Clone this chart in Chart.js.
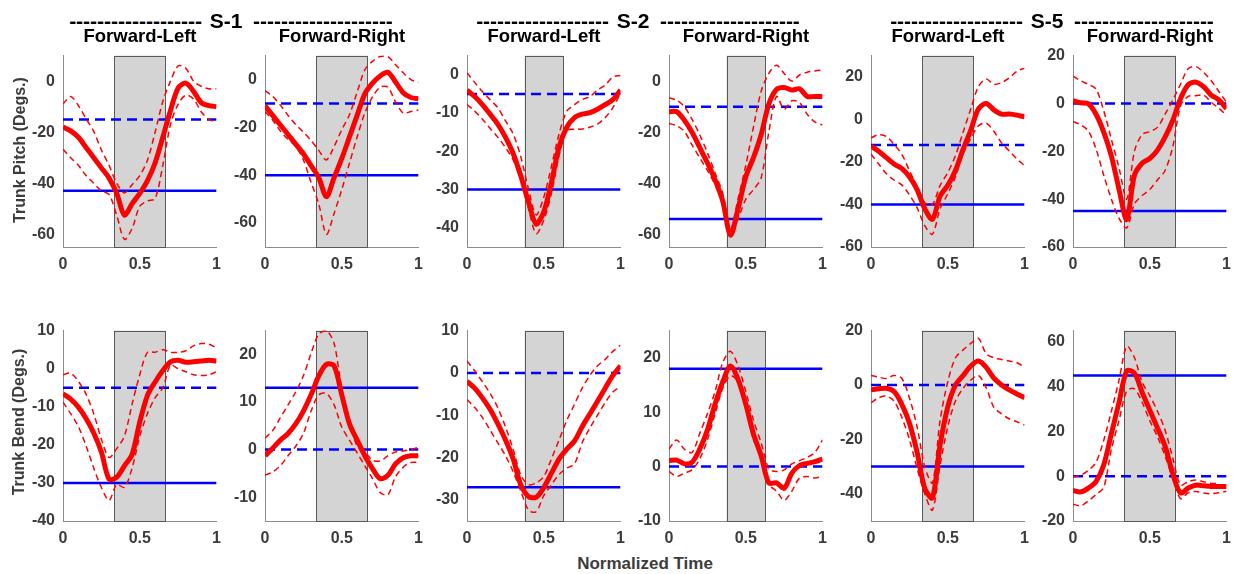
<!DOCTYPE html>
<html>
<head>
<meta charset="utf-8">
<script src="https://cdn.jsdelivr.net/npm/chart.js@4.4.0/dist/chart.umd.min.js"></script>
<style>
  body { margin: 0; background: #fff; }
  #fig { position: relative; width: 1241px; height: 574px; overflow: hidden; font-family: "Liberation Sans", Arial, sans-serif; }
  .panel { position: absolute; }
  .txt { position: absolute; white-space: nowrap; font-weight: bold; line-height: 1; }
</style>
</head>
<body>
<div id="fig"></div>
<script>
// Tiempo normalizado (comun a todos los paneles)
const tGrid = [0, 0.05, 0.1, 0.15, 0.2, 0.25, 0.3, 0.35, 0.4, 0.45, 0.5, 0.55, 0.6, 0.65, 0.7, 0.75, 0.8, 0.85, 0.9, 0.95, 1];
const xTicks = [0, 0.5, 1];

// Textos
const sujetos = ['S-1', 'S-2', 'S-5'];
const titulos = ['Forward-Left', 'Forward-Right'];
const ejeY = ['Trunk Pitch (Degs.)', 'Trunk Bend (Degs.)'];
const ejeX = 'Normalized Time';

// TRUNK PITCH - media, banda superior, banda inferior
const pitchS1Left = [-18, -19.5, -22, -26, -30, -34, -38, -44, -52.5, -48, -44, -39, -32, -22, -11.5, -2.7, -0.8, -4, -8.4, -9.6, -10];
const pitchS1LeftUp = [-9, -6, -9.6, -14.7, -19.7, -27, -33, -40, -43.8, -40.6, -37, -31, -20, -8, 0, 6, 5, 0, -2, -3, -3];
const pitchS1LeftDown = [-26.7, -30, -33, -37, -40, -43, -44.4, -52.6, -62, -57.7, -49, -47, -46, -33, -17, -9, -5.5, -7, -12, -15, -16];

const pitchS1Right = [-11, -15, -19, -23, -27, -31, -36, -41, -49, -41, -33, -24, -15, -6, -1.5, 1.5, 3, -1, -5.5, -7.5, -8];
const pitchS1RightUp = [-4.6, -7, -10.7, -15, -18.8, -22, -25.5, -29.6, -33.6, -28, -21, -14.7, -5.3, 4, 7.6, 9.6, 9.6, 6.2, 2.8, 0, -1.2];
const pitchS1RightDown = [-13.4, -17, -21.5, -25, -28, -33.6, -43, -52, -64.7, -56, -46, -35, -24, -14, -7.3, -3.2, -3.2, -9.3, -14, -13.4, -12.7];

const pitchS2Left = [-4, -5.7, -7.8, -10.3, -12.9, -16.3, -20.5, -26.4, -33.2, -39, -35.8, -28.1, -18.8, -13.7, -11.2, -10.3, -9.9, -9, -7.8, -6.5, -4];
const pitchS2LeftUp = [0.5, -2, -4.4, -6.5, -8.6, -12, -15.4, -21.4, -29.8, -36.6, -32, -23.9, -15.4, -9.5, -7.8, -6.5, -5.7, -4, -2.7, -0.6, -0.2];
const pitchS2LeftDown = [-7.8, -9.5, -11.6, -14, -16.3, -19, -22.2, -27.3, -34.9, -41.5, -38, -31, -21, -14.6, -14.2, -14.2, -13.7, -12.9, -11.2, -8.6, -4.8];

const pitchS2Right = [-12, -12, -15.3, -20, -26, -32, -38.7, -47, -60.3, -50, -37.5, -30, -21, -9, -3.3, -2.5, -3.5, -3, -6, -6, -6];
const pitchS2RightUp = [-6.5, -7.5, -10, -15, -21, -28, -36, -44, -58, -46, -33, -18, -4, 3, 6.2, 3, 0, 2.4, 3.5, 4, 4.3];
const pitchS2RightDown = [-16.6, -17.5, -19.7, -25, -30, -35, -40.6, -48, -61, -54, -46.3, -42.5, -38, -20, -6, -11, -7.7, -8.4, -13, -16, -17.2];

const pitchS5Left = [-12.5, -15, -18, -21, -23, -27, -33, -42, -47, -36, -31, -24, -14, -5, 5, 7.5, 4.5, 2.5, 2.5, 2, 1.2];
const pitchS5LeftUp = [-8.7, -7.2, -8, -11.8, -16.3, -24, -31.6, -39.2, -40, -31, -25, -17, -6, 5, 15.5, 19, 16.5, 17.3, 19.5, 22.6, 24.1];
const pitchS5LeftDown = [-16.3, -21, -25.5, -28.5, -30.8, -35.4, -41.5, -50, -54, -42, -35, -27, -16, -9, -3, -1.8, -5.6, -11, -14.8, -18.6, -21.7];

const pitchS5Right = [1.2, 0.3, -0.1, -4.5, -12, -22, -36, -48.5, -30, -25, -23, -19.5, -14, -7, 2, 7.8, 8.9, 7, 3.5, 1.5, -2.2];
const pitchS5RightUp = [11.4, 9.5, 8, 6, -3, -15, -27, -40, -20, -13, -11.8, -10, -4.5, 1.5, 8, 14.5, 15.4, 13, 9.5, 5, 0.5];
const pitchS5RightDown = [-7.6, -8.9, -11.5, -19, -30, -40, -48, -52, -42, -38.5, -36, -32, -28, -18, -1, 3, 3.2, 3.5, 0.5, -2, -4.9];

// TRUNK BEND - media, banda superior, banda inferior
const bendS1Left = [-6.6, -8, -10.1, -13.1, -16.9, -21.9, -29, -28.5, -25.5, -22.5, -14, -7, -3.5, -0.5, 1.8, 2.2, 1.7, 1.8, 2, 2.2, 2];
const bendS1LeftUp = [-1.6, -1.2, -3.3, -6.7, -11.8, -18.5, -23.3, -21, -17.7, -9.3, -1.6, 4.3, 4.3, 5, 4.3, 4.3, 4.7, 6, 6.6, 6.4, 5.5];
const bendS1LeftDown = [-8.8, -11.8, -15.2, -20.2, -26.1, -31.2, -34.6, -30.4, -31.2, -26.1, -17.7, -11.8, -7.6, -5, 0.9, 0, -0.8, -1.6, -1.8, -1.6, -0.8];

const bendS1Right = [-1.3, 0.3, 2, 3.4, 5.4, 8.1, 11.5, 15.5, 17.9, 17.6, 11.5, 5.4, 2, -1.3, -4, -6.1, -5.4, -3, -1.7, -1.3, -1.3];
const bendS1RightUp = [2.4, 4, 6.7, 9.4, 12.1, 15.5, 20.2, 24.3, 25, 22.3, 12.8, 6.1, 0.7, -0.5, -2.2, -2.4, -1.3, -0.5, -0.3, 0, 0.5];
const bendS1RightDown = [-5.4, -4.7, -3.4, -1.3, 0.7, 3.4, 8.1, 11.5, 11.8, 9.4, 4.7, 2, -0.7, -3.4, -6.1, -9, -9.5, -5.7, -3.7, -2.7, -2.7];

const bendS2Left = [-2, -3.6, -5.9, -8.6, -12, -15.8, -20.3, -26.4, -29.2, -29.4, -27.1, -23.7, -20.3, -18, -16.1, -12.7, -9.7, -6.7, -3.6, -0.6, 1.7];
const bendS2LeftUp = [2.8, 0.5, -2.1, -4.8, -8.2, -12.7, -18, -24.1, -26.4, -26, -24.5, -20.3, -15.8, -11.2, -7.4, -3.6, -0.6, 1.7, 3.2, 5.1, 6.6];
const bendS2LeftDown = [-6.3, -8.2, -10.5, -13.5, -16.5, -19.5, -23.3, -27.9, -32.4, -32.8, -29, -26.4, -24, -22.5, -21.5, -16.5, -13, -10, -7, -4.5, -3.2];

const bendS2Right = [1.1, 1.2, 0.5, 0.8, 3.2, 6.7, 11.5, 15.6, 18.5, 16, 11.5, 6, 2, -3, -3, -4, -1.2, 0.2, 0.6, 0.9, 1.4];
const bendS2RightUp = [3.2, 4.9, 3.2, 2.6, 6.1, 9.7, 13.8, 19.1, 21.2, 18.5, 13.8, 8.5, 4.4, -0.4, -0.9, -0.6, 0.5, 1.1, 1.7, 2.6, 4.9];
const bendS2RightDown = [-0.9, -1.8, -1.2, -0.6, 1.4, 4.9, 9.7, 14.4, 16.7, 15.6, 10.5, 5, 2, -3.3, -4.5, -6.2, -4.5, -2.1, -1.8, -2.1, -1.8];

const bendS5Left = [-1.8, -1.4, -1.2, -2.4, -7, -14, -24.7, -38, -41.5, -22, -8, 0, 3.5, 7, 8.8, 6.5, 2.5, 0, -1.8, -3.3, -4.7];
const bendS5LeftUp = [3.5, 2.9, 2.4, 3.5, 2.5, -4.7, -15.3, -30, -36, -13, 1.2, 10, 12.9, 15.3, 17.1, 11.5, 10, 9.4, 8.8, 8.2, 6.5];
const bendS5LeftDown = [-6.5, -4.7, -4.1, -5.9, -11.8, -20, -30.6, -40, -46, -29.4, -15.3, -5.9, -1.2, 1.8, 3.5, -1, -8.2, -10.6, -12.4, -13.5, -14.7];

const bendS5Right = [-6.4, -7, -5.3, -2.4, 5, 19, 33, 47, 46, 37.5, 29.5, 21.5, 13.3, 1, -7.5, -5.3, -4, -4.3, -4.6, -4.6, -4.6];
const bendS5RightUp = [-0.3, 0.4, 2.6, 6.2, 16, 29, 43, 58, 53, 42, 36, 29, 20.5, 8, -4, -2.4, -1.7, -2.5, -3.2, -3.5, -5.3];
const bendS5RightDown = [-12.5, -13.2, -11, -8.2, -5, 12, 25, 38, 39, 33, 24.8, 17.6, 9, -1, -10, -7.4, -6.8, -7.5, -7.8, -7.4, -6.7];

// Lineas azules (solida y discontinua), una por panel
const azulSolida = [-43, -40, -30, -54, -40, -45, -30, 13, -27, 18, -30, 45];
const azulDiscontinua = [-15, -10, -5, -10, -12, 0, -5, 0, 0, 0, 0, 0];

// Franja gris (inicio y fin en tiempo normalizado)
const franjaDesde = [0.333, 0.333, 0.375, 0.375, 0.333, 0.333, 0.333, 0.333, 0.375, 0.375, 0.333, 0.333];
const franjaHasta = [0.667, 0.667, 0.625, 0.625, 0.667, 0.667, 0.667, 0.667, 0.625, 0.625, 0.667, 0.667];

// Rangos y ticks del eje Y
const yMin = [-65, -70, -45, -65, -60, -60, -40, -15, -35, -10, -50, -20];
const yMax = [10, 10, 5, 10, 30, 20, 10, 25, 10, 25, 20, 65];
const yTicks = [
	[-60, -40, -20, 0], [-60, -40, -20, 0], [-40, -30, -20, -10, 0],
	[-60, -40, -20, 0], [-60, -40, -20, 0, 20], [-60, -40, -20, 0, 20],
	[-40, -30, -20, -10, 0, 10], [-10, 0, 10, 20], [-30, -20, -10, 0, 10],
	[-10, 0, 10, 20], [-40, -20, 0, 20], [-20, 0, 20, 40, 60]
];

// Paneles: fila 1 pitch, fila 2 bend
const paneles = [
	[pitchS1Left, pitchS1LeftUp, pitchS1LeftDown], [pitchS1Right, pitchS1RightUp, pitchS1RightDown],
	[pitchS2Left, pitchS2LeftUp, pitchS2LeftDown], [pitchS2Right, pitchS2RightUp, pitchS2RightDown],
	[pitchS5Left, pitchS5LeftUp, pitchS5LeftDown], [pitchS5Right, pitchS5RightUp, pitchS5RightDown],
	[bendS1Left, bendS1LeftUp, bendS1LeftDown], [bendS1Right, bendS1RightUp, bendS1RightDown],
	[bendS2Left, bendS2LeftUp, bendS2LeftDown], [bendS2Right, bendS2RightUp, bendS2RightDown],
	[bendS5Left, bendS5LeftUp, bendS5LeftDown], [bendS5Right, bendS5RightUp, bendS5RightDown]
];

// Posicion de cada eje en la figura
const colLeft = [63, 265, 467, 669, 871, 1073];
const rowTop = [48, 323];
const rowAlto = [199, 198];
const anchoEje = 154;

const fig = document.getElementById('fig');
const fuenteTicks = { family: '"Liberation Sans", Arial, sans-serif', size: 16, weight: 'bold' };
const grisTexto = '#3c3c3c';

/* Plugin que pinta la franja gris usando la escala X */
const pluginFranja = {
	id: 'franja',
	beforeDatasetsDraw(chart, args, opts) {
		const { ctx, chartArea, scales } = chart;
		let x0 = scales.x.getPixelForValue(opts.desde);
		let x1 = scales.x.getPixelForValue(opts.hasta);
		ctx.save();
		ctx.fillStyle = '#d4d4d4';
		ctx.fillRect(x0, chartArea.top, x1 - x0, chartArea.bottom - chartArea.top);
		ctx.strokeStyle = '#595959';
		ctx.lineWidth = 1;
		ctx.strokeRect(Math.round(x0) + 0.5, Math.round(chartArea.top) + 0.5, Math.round(x1 - x0), Math.round(chartArea.bottom - chartArea.top));
		ctx.restore();
	}
};

/* Convierte una serie en puntos {x, y} */
function puntos(serie) {
	return tGrid.map((t, k) => ({ x: t, y: serie[k] }));
}

/* Linea horizontal de 0 a 1 */
function horizontal(v) {
	return [{ x: 0, y: v }, { x: 1, y: v }];
}

/* Escribe un texto en la figura */
function ponTexto(txt, x, y, size, color, ancla, rot) {
	let d = document.createElement('div');
	d.className = 'txt';
	d.textContent = txt;
	d.style.left = x + 'px';
	d.style.top = y + 'px';
	d.style.fontSize = size + 'px';
	d.style.color = color;
	let tx = ancla == 'r' ? '-100%' : ancla == 'l' ? '0' : '-50%';
	d.style.transform = `translate(${tx}, -50%)` + (rot ? ` rotate(${rot}deg)` : '');
	fig.appendChild(d);
}

/* Crea un panel (canvas + chart) */
function creaPanel(i) {
	let fila = Math.floor(i / 6), col = i % 6;
	let W = 50 + anchoEje + 12, H = 10 + rowAlto[fila] + 32;
	let canvas = document.createElement('canvas');
	canvas.width = W;
	canvas.height = H;
	canvas.className = 'panel';
	canvas.style.left = (colLeft[col] - 50) + 'px';
	canvas.style.top = (rowTop[fila] - 10) + 'px';
	fig.appendChild(canvas);

	let [media, sup, inf] = paneles[i];

	const data = {
		datasets: [
			{ data: puntos(media), borderColor: '#ff0000', borderWidth: 5, tension: 0.3, order: 0 },
			{ data: puntos(sup), borderColor: '#ff0000', borderWidth: 1.5, borderDash: [6, 4], tension: 0.3, order: 1 },
			{ data: puntos(inf), borderColor: '#ff0000', borderWidth: 1.5, borderDash: [6, 4], tension: 0.3, order: 1 },
			{ data: horizontal(azulSolida[i]), borderColor: '#0000ff', borderWidth: 2.5, order: 2 },
			{ data: horizontal(azulDiscontinua[i]), borderColor: '#0000ff', borderWidth: 2.5, borderDash: [10, 6], order: 2 }
		]
	};

	const config = {
		type: 'line',
		data: data,
		options: {
			responsive: false,
			animation: false,
			events: [],
			layout: { padding: { top: 10, right: 12, left: 0, bottom: 0 } },
			elements: { point: { radius: 0 } },
			plugins: {
				legend: { display: false },
				tooltip: { enabled: false },
				franja: { desde: franjaDesde[i], hasta: franjaHasta[i] }
			},
			scales: {
				x: {
					type: 'linear', min: 0, max: 1,
					afterBuildTicks: s => { s.ticks = xTicks.map(v => ({ value: v })); },
					afterFit: s => { s.height = 32; },
					grid: { display: false, drawTicks: false },
					border: { display: true, color: '#8c8c8c', width: 1 },
					ticks: { padding: 8, font: fuenteTicks, color: grisTexto, maxRotation: 0, callback: v => String(v) }
				},
				y: {
					type: 'linear', min: yMin[i], max: yMax[i],
					afterBuildTicks: s => { s.ticks = yTicks[i].map(v => ({ value: v })); },
					afterFit: s => { s.width = 50; },
					grid: { display: false, drawTicks: false },
					border: { display: true, color: '#8c8c8c', width: 1 },
					ticks: { padding: 8, font: fuenteTicks, color: grisTexto, callback: v => String(v) }
				}
			}
		},
		plugins: [pluginFranja]
	};

	new Chart(canvas, config);
}

for (let i = 0; i < 12; i++) creaPanel(i);

// Cabeceras de sujeto
const centroSujeto = [226, 633, 1047];
sujetos.forEach((s, k) => {
	let c = centroSujeto[k];
	ponTexto('-------------------', c - 24, 20, 21, '#000', 'r');
	ponTexto(s, c, 20, 21, '#000', 'c');
	ponTexto('--------------------', c + 27, 20, 21, '#000', 'l');
});

// Titulos de cada columna
colLeft.forEach((x, k) => {
	ponTexto(titulos[k % 2], x + anchoEje / 2, 36, 18.5, '#000', 'c');
});

// Etiquetas de los ejes
ponTexto(ejeY[0], 20, 150, 16, grisTexto, 'c', -90);
ponTexto(ejeY[1], 19, 422, 16, grisTexto, 'c', -90);
ponTexto(ejeX, 645, 563, 17, grisTexto, 'c');
</script>
</body>
</html>
